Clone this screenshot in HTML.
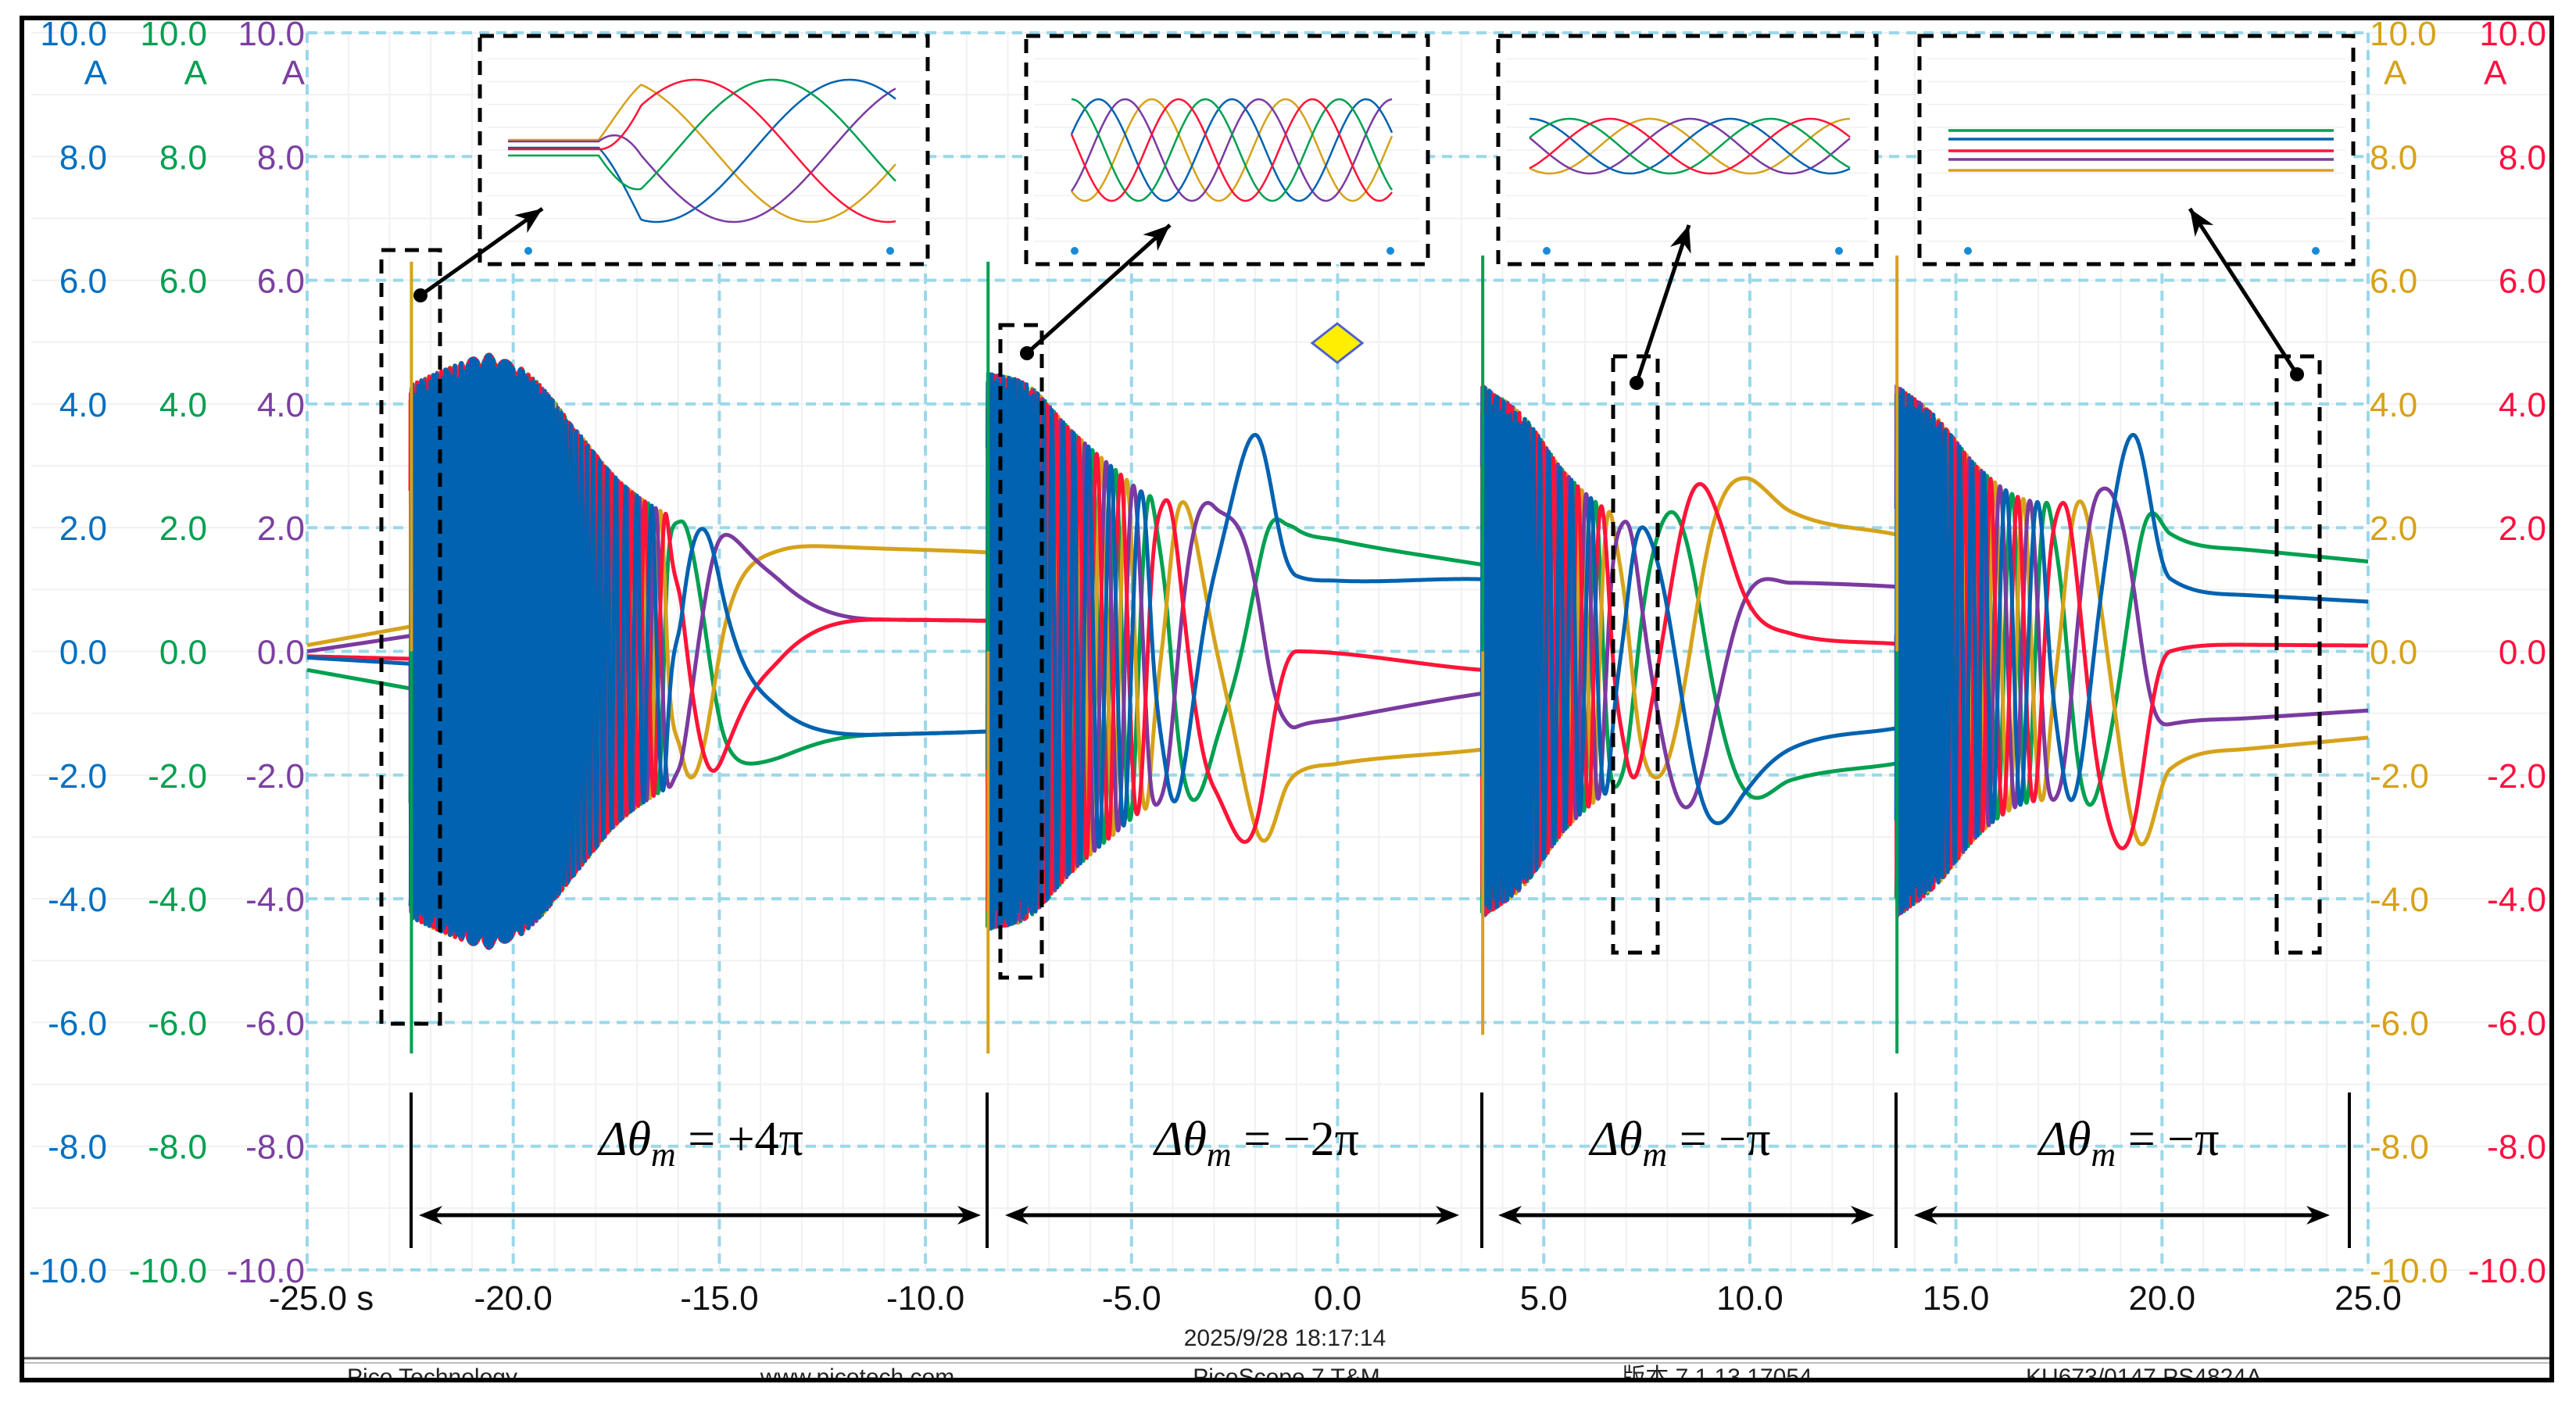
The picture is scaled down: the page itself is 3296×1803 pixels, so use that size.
<!DOCTYPE html>
<html><head><meta charset="utf-8">
<style>
html,body{margin:0;padding:0;background:#fff;}
svg{display:block;}
text{font-family:"Liberation Sans",sans-serif;}
.mth{font-family:"Liberation Serif","DejaVu Serif",serif;font-style:italic;}
</style></head>
<body>
<svg id="chart" width="3296" height="1803" viewBox="0 0 3296 1803" xmlns="http://www.w3.org/2000/svg">
<rect x="0" y="0" width="3296" height="1803" fill="#fff"/>
<g id="grid"></g>
<g id="yl"></g>
<g id="xl"></g>
<g id="traces"></g>
<g id="insets"></g>
<g id="annot"></g>
<line x1="30" y1="1738" x2="3264" y2="1738" stroke="#555" stroke-width="3"/>
<line x1="30" y1="1744" x2="3264" y2="1744" stroke="#bbb" stroke-width="2"/>
<g font-size="30" fill="#222" text-anchor="middle">
<text x="553" y="1772">Pico Technology</text>
<text x="1097" y="1772">www.picotech.com</text>
<text x="1646" y="1772">PicoScope 7 T&amp;M</text>
<text x="2197" y="1772">版本 7.1.13.17054</text>
<text x="2743" y="1772">KU673/0147 PS4824A</text>
</g>
<text x="1644" y="1722" font-size="30" fill="#222" text-anchor="middle">2025/9/28 18:17:14</text>
<rect x="0" y="1768" width="3296" height="35" fill="#fff"/>
<rect x="28" y="23" width="3237" height="1743" fill="none" stroke="#000" stroke-width="6"/>
</svg>
<script>
// ---- axis data ----
const xTicks=[-25,-20,-15,-10,-5,0,5,10,15,20,25];
const xTickLabels=["-25.0 s","-20.0","-15.0","-10.0","-5.0","0.0","5.0","10.0","15.0","20.0","25.0"];
const yTicks=[10,8,6,4,2,0,-2,-4,-6,-8,-10];
const yTickLabels=["10.0","8.0","6.0","4.0","2.0","0.0","-2.0","-4.0","-6.0","-8.0","-10.0"];
// ---- series data: five phase currents (A) ----
const channels=["gold","purple","blue","green","red"];
const channelPhase=[0,0.2,0.4,0.6,0.8];
const preT=[-25,-22.5];
const preGold=[0.1,0.4];
const prePurple=[0.0,0.25];
const preBlue=[-0.1,-0.2];
const preGreen=[-0.3,-0.6];
const preRed=[-0.08,-0.12];
const segBounds=[-22.5,-8.5,3.5,13.55,25];
const seg1PhiT=[-22.5,-21,-19,-18,-17,-16.3,-15.9,-15.4,-14.8,-13.5,-11,-8.5];
const seg1Phi=[60,40,16,8,3.4,1.8,1.6,1.4,1.2,1.06,1.0,1.0];
const seg1AT=[-22.5,-21.5,-20.5,-19.5,-18.5,-17.5,-16.5,-15.5,-14,-8.5];
const seg1A=[4.3,4.6,4.8,4.4,3.6,2.8,2.3,2.0,1.8,1.6];
const seg2PhiT=[-8.5,-7.5,-6.5,-5.5,-4.55,-4.15,-3.75,-3.15,-2.0,-1.0,3.5];
const seg2Phi=[-30,-10,-4,-1.6,-0.4,-0.2,0,0.2,0.4,0.55,0.52];
const seg2AT=[-8.5,-7.5,-6.5,-5.5,-4.5,-3.0,-2.0,-1.2,0,3.5];
const seg2A=[4.5,4.3,3.6,3.0,2.5,2.4,3.5,2.2,1.9,1.6];
const seg3PhiT=[3.5,4.5,5.5,6.2,6.6,7.0,7.4,8.0,8.75,9.2,9.9,11,13.55];
const seg3Phi=[-26,-8,-2.2,-0.5,0,0.2,0.4,0.6,0.8,0.9,1.0,1.03,1.04];
const seg3AT=[3.5,4.5,5.5,6.5,7.5,8.75,9.9,11,13.55];
const seg3A=[4.3,3.8,2.9,2.3,2.0,2.7,2.8,2.3,1.95];
const seg4PhiT=[13.55,14.5,15.5,16.5,17.2,17.6,18.0,18.5,19.3,20.2,22,25];
const seg4Phi=[-28,-9,-3.2,-1.2,-0.4,-0.2,0,0.2,0.4,0.55,0.56,0.56];
const seg4AT=[13.55,14.5,15.5,16.5,17.5,18.5,19.3,20.2,22,25];
const seg4A=[4.3,3.8,3.0,2.5,2.4,2.6,3.5,2.0,1.7,1.5];
const spikeT=[-22.47,-8.48,3.52,13.57];
const spikeUpCh=["gold","green","green","gold"];
const spikeUp=[6.3,6.3,6.4,6.4];
const spikeDnCh=["green","gold","gold","green"];
const spikeDn=[-6.5,-6.5,-6.2,-6.5];
const segLabels=["+4π","−2π","−π","−π"];

const NS="http://www.w3.org/2000/svg";
const X0=393,X1=3030,Y0=42,Y1=1625;
function xs(t){return X0+(t+25)/50*(X1-X0);}
function ys(v){return Y1-(v+10)/20*(Y1-Y0);}
const col={gold:"#d6a21a",purple:"#7a3aa0",blue:"#0062b0",green:"#00a050",red:"#ff1438"};
const lblCol={gold:"#d6a21a",purple:"#7b3fa0",blue:"#0070c0",green:"#00a050",red:"#ff1040"};
function mk(tag,attrs,parent){const e=document.createElementNS(NS,tag);for(const k in attrs)e.setAttribute(k,attrs[k]);parent.appendChild(e);return e;}
function interp(T,V,t){if(t<=T[0])return V[0];for(let i=1;i<T.length;i++){if(t<=T[i]){const f=(t-T[i-1])/(T[i]-T[i-1]);return V[i-1]+f*(V[i]-V[i-1]);}}return V[V.length-1];}
// monotone cubic (Fritsch-Carlson)
function smooth(T,V,t){
 const n=T.length;if(t<=T[0])return V[0];if(t>=T[n-1])return V[n-1];
 const d=[],m=[];for(let i=0;i<n-1;i++)d.push((V[i+1]-V[i])/(T[i+1]-T[i]));
 m[0]=d[0];m[n-1]=d[n-2];
 for(let i=1;i<n-1;i++){m[i]=(d[i-1]*d[i]<=0)?0:(d[i-1]+d[i])/2;}
 for(let i=0;i<n-1;i++){if(d[i]===0){m[i]=0;m[i+1]=0;continue;}const a=m[i]/d[i],b=m[i+1]/d[i],s=a*a+b*b;if(s>9){const k=3/Math.sqrt(s);m[i]=k*a*d[i];m[i+1]=k*b*d[i];}}
 let i=0;while(t>T[i+1])i++;
 const h=T[i+1]-T[i],u=(t-T[i])/h;
 const h00=2*u*u*u-3*u*u+1,h10=u*u*u-2*u*u+u,h01=-2*u*u*u+3*u*u,h11=u*u*u-u*u;
 return h00*V[i]+h10*h*m[i]+h01*V[i+1]+h11*h*m[i+1];
}

// grid
const grid=document.getElementById('grid');
for(let i=-25;i<=25;i+=1){const x=xs(i);mk('line',{x1:x,y1:Y0,x2:x,y2:Y1,stroke:"#f1f1f1","stroke-width":2},grid);}
for(let v=-10;v<=10;v+=1){const y=ys(v);mk('line',{x1:40,y1:y,x2:3260,y2:y,stroke:"#f1f1f1","stroke-width":2},grid);}
xTicks.forEach(t=>{const l=mk('line',{x1:xs(t),y1:Y0,x2:xs(t),y2:Y1,stroke:"#9ad8ea","stroke-width":4,"stroke-dasharray":"13 9"},grid);

});
yTicks.forEach(v=>{const l=mk('line',{x1:X0,y1:ys(v),x2:X1,y2:ys(v),stroke:"#9ad8ea","stroke-width":4,"stroke-dasharray":"13 9"},grid);

});

// y labels
const yl=document.getElementById('yl');
const leftCols=[["blue",137],["green",265],["purple",390]];
const rightCols=[["gold",3032,"start"],["red",3258,"end"]];
yTicks.forEach((v,i)=>{
 leftCols.forEach(c=>{const t=mk('text',{x:c[1],y:ys(v)+16,"font-size":44,fill:lblCol[c[0]],"text-anchor":"end"},yl);t.textContent=yTickLabels[i];
 
 });
 rightCols.forEach(c=>{const t=mk('text',{x:c[1],y:ys(v)+16,"font-size":44,fill:lblCol[c[0]],"text-anchor":c[2]},yl);t.textContent=yTickLabels[i];
 
 });
});
[["blue",137,"end"],["green",265,"end"],["purple",390,"end"],["gold",3050,"start"],["red",3178,"start"]].forEach(c=>{
 const t=mk('text',{x:c[1],y:108,"font-size":44,fill:lblCol[c[0]],"text-anchor":c[2]},yl);t.textContent="A";
 
 });

// x labels
const xl=document.getElementById('xl');
xTicks.forEach((t,i)=>{const e=mk('text',{x:i==0?xs(t)+18:xs(t),y:1676,"font-size":44,fill:"#111","text-anchor":"middle"},xl);e.textContent=xTickLabels[i];
 
 });

// traces
const segs=[[seg1PhiT,seg1Phi,seg1AT,seg1A],[seg2PhiT,seg2Phi,seg2AT,seg2A],[seg3PhiT,seg3Phi,seg3AT,seg3A],[seg4PhiT,seg4Phi,seg4AT,seg4A]];
const pre={gold:preGold,purple:prePurple,blue:preBlue,green:preGreen,red:preRed};
function value(ch,t){
 if(t<segBounds[0])return interp(preT,pre[ch],t);
 let s=0;for(let i=0;i<4;i++)if(t>=segBounds[i])s=i;
 const S=segs[s];const ph=smooth(S[0],S[1],t),A=smooth(S[2],S[3],t);
 const off=channelPhase[channels.indexOf(ch)];
 return A*Math.cos(2*Math.PI*(ph-off));
}
const tr=document.getElementById('traces');
const order=["green","gold","purple","red","blue"];
order.forEach(ch=>{
 let d="";const dt=0.008;
 for(let t=-25;t<=25.0001;t+=dt){
  const bnd=segBounds.slice(0,4).some(b=>t>=b&&t-dt<b);
  d+=(d===""||bnd?"M":"L")+xs(t).toFixed(1)+" "+ys(value(ch,t)).toFixed(1);
 }
 const p=mk('path',{d:d,fill:"none",stroke:col[ch],"stroke-width":5,"stroke-linejoin":"round"},tr);
 
 
});
spikeT.forEach((t,i)=>{
 const a=mk('line',{x1:xs(t),y1:ys(0),x2:xs(t),y2:ys(spikeUp[i]),stroke:col[spikeUpCh[i]],"stroke-width":4},tr);
 
 
 const b=mk('line',{x1:xs(t),y1:ys(0),x2:xs(t),y2:ys(spikeDn[i]),stroke:col[spikeDnCh[i]],"stroke-width":4},tr);
 
 
});

// insets
const ins=document.getElementById('insets');
const insetBoxes=[[614,46,1187,338],[1313,46,1827,338],[1917,46,2401,338],[2456,46,3011,338]];
insetBoxes.forEach(b=>{const r=mk('rect',{x:b[0],y:b[1],width:b[2]-b[0],height:b[3]-b[1],fill:"#fff",stroke:"#000","stroke-width":5,"stroke-dasharray":"18 12"},ins);
 
 
 mk('circle',{cx:b[0]+62,cy:b[3]-17,r:5,fill:"#1a8ad6"},ins);
 mk('circle',{cx:b[2]-48,cy:b[3]-17,r:5,fill:"#1a8ad6"},ins);
 for(let k=1;k<10;k++){mk('line',{x1:b[0]+10,y1:b[1]+k*(b[3]-b[1])/10,x2:b[2]-10,y2:b[1]+k*(b[3]-b[1])/10,stroke:"#f0f0f0","stroke-width":1.5},ins);}
});
const in1X=[650,766,1146];const in1Ph=[0.05,0.05,-0.72];const in1Amp=91,in1Y=193;
const in1Pre={gold:-14,purple:-12,blue:-4,green:6,red:-2};
const in2X=[1371,1782],in2Ph=[0.6,-1.8],in2Amp=65,in2Y=192;
const in3X=[1957,2368],in3Ph=[0.4,2.0],in3Amp=35,in3Y=187;
const in4X=[2493,2986];const in4Y={green:167,blue:178,red:193,purple:204,gold:218};
channels.forEach((ch,ci)=>{
 let d="";
 for(let x=in1X[0];x<=in1X[2];x+=2){
  let y;
  if(x<in1X[1]) y=in1Y+in1Pre[ch];
  else{const u=(x-in1X[1])/(in1X[2]-in1X[1]);const ph=interp(in1X,in1Ph,x);const a=Math.min(1,u*7);
   y=in1Y+(1-a)*in1Pre[ch]-a*in1Amp*Math.cos(2*Math.PI*(ph-channelPhase[ci]));}
  d+=(d?"L":"M")+x+" "+y.toFixed(1);}
 let p=mk('path',{d:d,fill:"none",stroke:col[ch],"stroke-width":2.5},ins);
 
 
 [[in2X,in2Ph,in2Amp,in2Y,'inset2'],[in3X,in3Ph,in3Amp,in3Y,'inset3']].forEach(S=>{
  let dd="";for(let x=S[0][0];x<=S[0][1];x+=2){const ph=interp(S[0],S[1],x);const y=S[3]-S[2]*Math.cos(2*Math.PI*(ph-channelPhase[ci]));dd+=(dd?"L":"M")+x+" "+y.toFixed(1);}
  const q=mk('path',{d:dd,fill:"none",stroke:col[ch],"stroke-width":2.5},ins);
  
  
 });
 const l=mk('line',{x1:in4X[0],y1:in4Y[ch],x2:in4X[1],y2:in4Y[ch],stroke:col[ch],"stroke-width":3.5},ins);
 
 
});

// annotations
const an=document.getElementById('annot');
function arrowHead(x1,y1,x2,y2,len,wid){
 const a=Math.atan2(y2-y1,x2-x1),c=Math.cos(a),s=Math.sin(a);
 const bx=x2-len*c,by=y2-len*s,mx=x2-len*0.7*c,my=y2-len*0.7*s;
 return `M${x2},${y2} L${bx-wid*s},${by+wid*c} L${mx},${my} L${bx+wid*s},${by-wid*c} Z`;
}
[[488,320,563,1310],[1280,416,1333,1251],[2064,456,2121,1219],[2913,456,2968,1219]].forEach(b=>{
 const r=mk('rect',{x:b[0],y:b[1],width:b[2]-b[0],height:b[3]-b[1],fill:"none",stroke:"#000","stroke-width":5,"stroke-dasharray":"18 12"},an);
 
 });
[[538,378,694,267],[1314,452,1497,288],[2094,490,2161,288],[2939,479,2802,267]].forEach(a=>{
 mk('circle',{cx:a[0],cy:a[1],r:9,fill:"#000"},an);
 const l=mk('line',{x1:a[0],y1:a[1],x2:a[2],y2:a[3],stroke:"#000","stroke-width":5},an);
 
 
 mk('path',{d:arrowHead(a[0],a[1],a[2],a[3],34,14),fill:"#000"},an);});
[526,1263,1896,2426,3006].forEach(x=>{const l=mk('line',{x1:x,y1:1398,x2:x,y2:1597,stroke:"#000","stroke-width":4},an);
 
 });
const spans=[[536,1255],[1286,1867],[1917,2398],[2449,2981]];
const lblX=[897,1608,2150,2724];
spans.forEach((s,i)=>{
 const l=mk('line',{x1:s[0]+10,y1:1555,x2:s[1]-10,y2:1555,stroke:"#000","stroke-width":5},an);
 
 
 mk('path',{d:arrowHead(s[1]-100,1555,s[1],1555,30,12),fill:"#000"},an);
 mk('path',{d:arrowHead(s[0]+100,1555,s[0],1555,30,12),fill:"#000"},an);
 const t=mk('text',{x:lblX[i],y:1478,"font-size":62,fill:"#000","text-anchor":"middle"},an);
 t.setAttribute('class','mth');
 
 
 t.innerHTML='Δ<tspan>θ</tspan><tspan font-size="44" dy="14">m</tspan><tspan dy="-14" font-style="normal"> = '+segLabels[i]+'</tspan>';
});
const dm=mk('polygon',{points:"1711,414 1743,439 1711,464 1679,439",fill:"#ffee00",stroke:"#5060d0","stroke-width":3},an);


</script>
</body></html>
